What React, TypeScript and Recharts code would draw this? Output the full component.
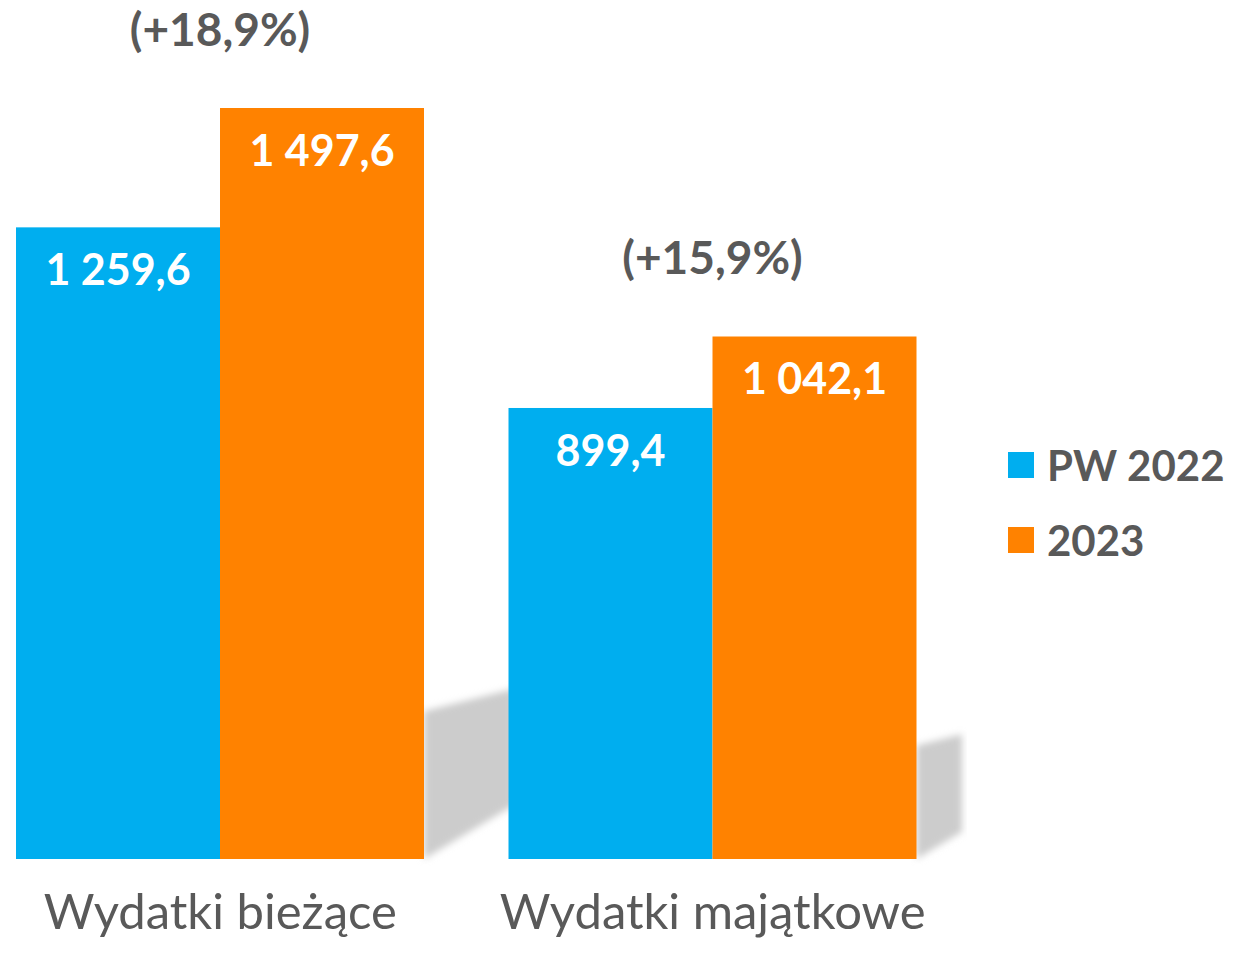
import { Bar, BarChart, LabelList, XAxis, YAxis } from "recharts";

const categories = ["Wydatki bieżące", "Wydatki majątkowe"];
const pw2022 = [1259.6, 899.4];
const y2023 = [1497.6, 1042.1];
const seriesNames = ["PW 2022", "2023"];

const data = categories.map((name, i) => ({ name, pw2022: pw2022[i], y2023: y2023[i] }));

const BLUE = "#00AEEF";
const ORANGE = "#FF8200";
const GRAY = "#595959";
const FONT = "Lato, 'Open Sans', sans-serif";

const CHART_W = 1276;
const CHART_H = 954;
const MARGIN = { top: 108, right: 291, bottom: 0, left: 0 };
const PLOT_RIGHT = CHART_W - MARGIN.right;

const fmt = (v: number) => {
  const [int, dec] = v.toFixed(1).split(".");
  return int.replace(/\B(?=(\d{3})+(?!\d))/g, " ") + "," + dec;
};

const growth = (a: number, b: number) => "(+" + ((b / a - 1) * 100).toFixed(1).replace(".", ",") + "%)";

// blue bar + the soft grey shadow of the orange bar next to it (drawn first so later bars cover it)
function BlueWithShadow(props: any) {
  const { x, y, width, height, payload } = props;
  const base = y + height;
  const oh = (height * payload.y2023) / payload.pw2022;
  const xr = x + 2 * width;
  const sh = oh * 0.15 + 35;
  const len = Math.max(0, Math.min(90, PLOT_RIGHT + 3 - xr));
  const pts = [
    [xr, base],
    [xr, base - sh],
    [xr + len, base - sh - len * 0.25],
    [xr + len, base - len * 0.6],
  ]
    .map((p) => p.join(","))
    .join(" ");
  return (
    <g>
      <defs>
        <filter id="shadowBlur" x="-10%" y="-10%" width="120%" height="120%">
          <feGaussianBlur stdDeviation="3.5" />
        </filter>
      </defs>
      <polygon points={pts} fill="#cccccc" filter="url(#shadowBlur)" />
      <rect x={x} y={y} width={width} height={height} fill={BLUE} />
    </g>
  );
}

const valueLabel = (props: any) => {
  const { x, y, width, value } = props;
  return (
    <text x={x + width / 2} y={y + 58} fill="#fff" fontFamily={FONT} fontWeight={700} fontSize={43} textAnchor="middle">
      {fmt(value)}
    </text>
  );
};

const growthLabel = (props: any) => {
  const { x, y, index } = props;
  return (
    <text x={x} y={y - 62} fill={GRAY} fontFamily={FONT} fontWeight={700} fontSize={46} textAnchor="middle">
      {growth(pw2022[index], y2023[index])}
    </text>
  );
};

const CategoryTick = (props: any) => {
  const { x, y, payload } = props;
  return (
    <text x={x} y={y} dy={62} fill={GRAY} fontFamily={FONT} fontSize={49} textAnchor="middle">
      {payload.value}
    </text>
  );
};

export default function App() {
  return (
    <div style={{ position: "absolute", left: 0, top: 0, width: 1250, height: 954, overflow: "hidden", background: "#fff" }}>
      <div style={{ marginLeft: -26 }}>
        <BarChart width={CHART_W} height={CHART_H} data={data} margin={MARGIN} barGap={0} barSize={204}>
          <XAxis dataKey="name" axisLine={false} tickLine={false} height={95} tick={<CategoryTick />} interval={0} />
          <YAxis hide domain={[0, "dataMax"]} />
          <Bar dataKey="pw2022" name={seriesNames[0]} fill={BLUE} shape={<BlueWithShadow />} isAnimationActive={false}>
            <LabelList dataKey="pw2022" content={valueLabel} />
          </Bar>
          <Bar dataKey="y2023" name={seriesNames[1]} fill={ORANGE} isAnimationActive={false}>
            <LabelList dataKey="y2023" content={valueLabel} />
            <LabelList dataKey="y2023" content={growthLabel} />
          </Bar>
        </BarChart>
      </div>
      <div
        style={{
          position: "absolute",
          left: 1008,
          top: 427,
          fontFamily: FONT,
          fontWeight: 700,
          fontSize: 42,
          color: GRAY,
        }}
      >
        {[BLUE, ORANGE].map((color, i) => (
          <div key={seriesNames[i]} style={{ display: "flex", alignItems: "center", height: 75 }}>
            <span style={{ width: 26, height: 26, background: color, marginRight: 13 }} />
            {seriesNames[i]}
          </div>
        ))}
      </div>
    </div>
  );
}
